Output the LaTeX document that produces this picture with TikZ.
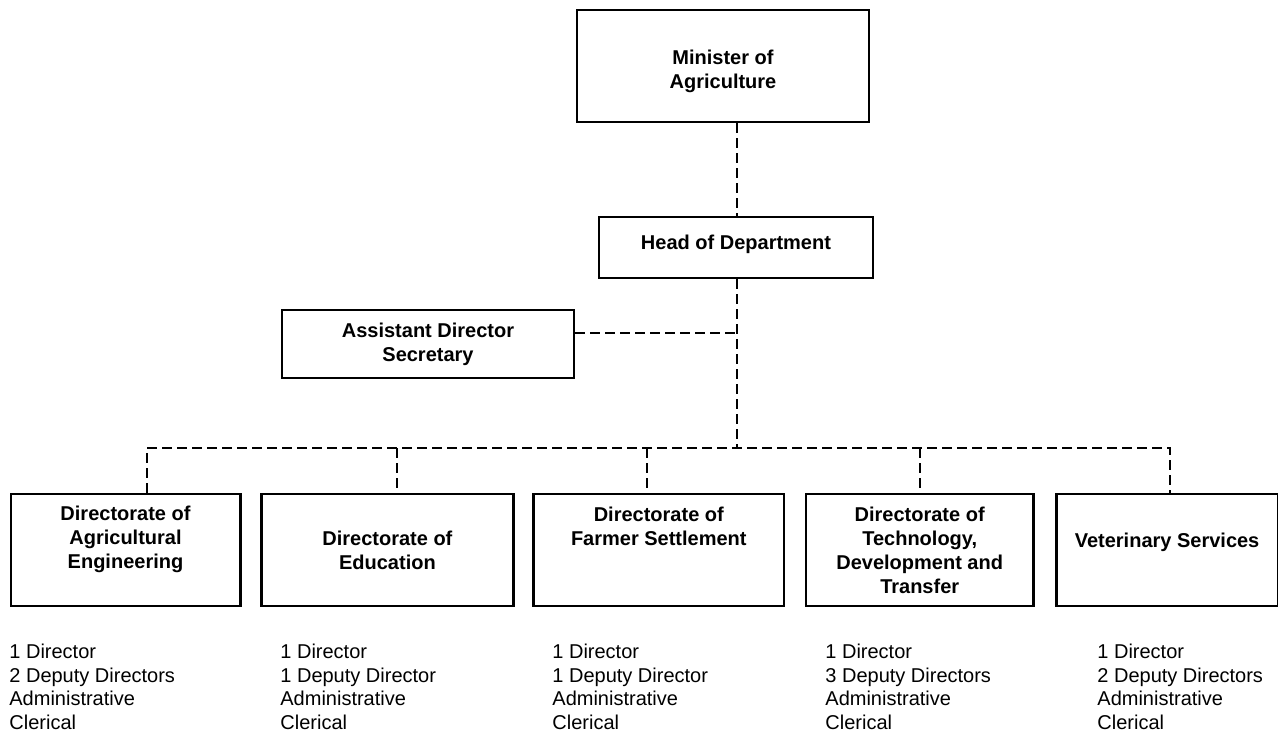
\documentclass[tikz,border=0pt]{standalone}
\usepackage{fontspec}
\setmainfont{Liberation Sans}
\usetikzlibrary{positioning}

\begin{document}
\begin{tikzpicture}[x=0.5pt,y=-0.5pt,node distance=9.5pt]
  \tikzset{
    unit/.style={draw,line width=1.3pt,align=center,inner sep=2pt,
      font=\bfseries\fontsize{10}{12}\selectfont},
    dirbox/.style={unit,minimum height=56pt},
    staff/.style={align=left,anchor=north west,inner sep=0pt,
      font=\fontsize{10}{11.75}\selectfont},
    link/.style={line width=1pt,dash pattern=on 5pt off 2.5pt}
  }
  \useasboundingbox (0,0) rectangle (1278,732);
  % top of the chart
  \node[unit,minimum width=146pt,minimum height=56pt,text height=24.5pt] (min) at (723,66) {Minister of\\Agriculture};
  \node[unit,minimum width=137pt,minimum height=30.5pt,text depth=5.6pt] (head) at (736,247.5) {Head of Department};
  \node[unit,minimum width=146pt,minimum height=34pt] (asst) at (428,344) {Assistant Director\\Secretary};
  % directorates
  \node[dirbox,minimum width=114.7pt,text depth=13pt] (d1) at (125.5,550) {Directorate of\\Agricultural\\Engineering};
  \node[dirbox,minimum width=126.2pt,right=9.2pt of d1] (d2) {Directorate of\\Education};
  \node[dirbox,minimum width=125.2pt,text depth=24pt,right=8.7pt of d2] (d3) {Directorate of\\Farmer Settlement};
  \node[dirbox,minimum width=113.7pt,right=9.7pt of d3] (d4) {Directorate of\\Technology,\\Development and\\Transfer};
  \node[dirbox,minimum width=110.7pt,text depth=10pt,right=10.2pt of d4] (d5) {Veterinary Services};
  % staff lists
  \node[staff] (s1) at (9,644) {1 Director\\2 Deputy Directors\\Administrative\\Clerical};
  \node[staff] (s2) at (280,644) {1 Director\\1 Deputy Director\\Administrative\\Clerical};
  \node[staff] (s3) at (552,644) {1 Director\\1 Deputy Director\\Administrative\\Clerical};
  \node[staff] (s4) at (825,644) {1 Director\\3 Deputy Directors\\Administrative\\Clerical};
  \node[staff] (s5) at (1097,644) {1 Director\\2 Deputy Directors\\Administrative\\Clerical};
  % dashed links
  \coordinate (hub) at (737,448);
  \foreach \i/\x in {1/147,2/397,3/647,4/920,5/1170}
    \coordinate (t\i) at (\x,448);
  \draw[link] (min.south -| hub) -- (head.north -| hub);
  \draw[link] (head.south -| hub) -- (hub);
  \draw[link] ([yshift=5.5pt]asst.east) -- ([yshift=5.5pt]asst.east -| hub);
  \draw[link] (t1 |- d1.north) -- (t1) -- (t5) -- (t5 |- d5.north);
  \foreach \i in {2,3,4}
    \draw[link] (t\i) -- (t\i |- d\i.north);
\end{tikzpicture}
\end{document}
